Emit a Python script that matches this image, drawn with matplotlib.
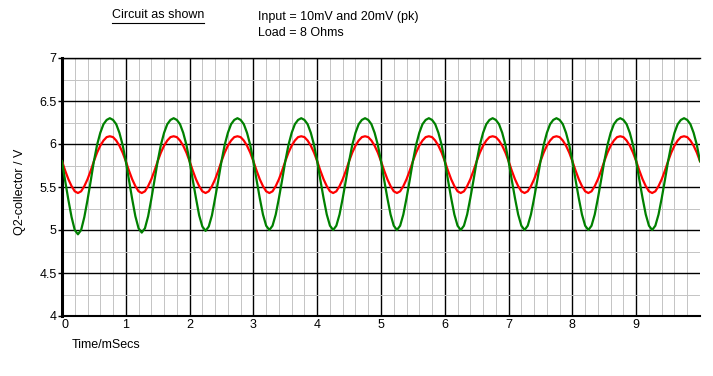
import numpy as np
import matplotlib
matplotlib.use("Agg")
import matplotlib.pyplot as plt
from matplotlib.ticker import MultipleLocator, FixedLocator
from matplotlib.lines import Line2D

plt.rcParams['font.family'] = ['Liberation Sans', 'DejaVu Sans']

# Time axis (ms), samples every 0.05 ms
time_ms = np.linspace(0, 10, 201)

# Q2 collector voltage, 10 mV input (red)
red_v = (
    [5.80, 5.69, 5.59, 5.51, 5.45, 5.43, 5.45, 5.51, 5.59, 5.69, 5.80, 5.90, 5.98, 6.04, 6.08, 6.09, 6.08, 6.04, 5.98, 5.90]
    + [5.80, 5.69, 5.59, 5.51, 5.45, 5.43, 5.45, 5.51, 5.59, 5.69, 5.80, 5.90, 5.98, 6.04, 6.08, 6.09, 6.08, 6.04, 5.98, 5.90]
    + [5.80, 5.69, 5.59, 5.51, 5.45, 5.43, 5.45, 5.51, 5.59, 5.69, 5.80, 5.90, 5.98, 6.04, 6.08, 6.09, 6.08, 6.04, 5.98, 5.90]
    + [5.80, 5.69, 5.59, 5.51, 5.45, 5.43, 5.45, 5.51, 5.59, 5.69, 5.80, 5.90, 5.98, 6.04, 6.08, 6.09, 6.08, 6.04, 5.98, 5.90]
    + [5.80, 5.69, 5.59, 5.51, 5.45, 5.43, 5.45, 5.51, 5.59, 5.69, 5.80, 5.90, 5.98, 6.04, 6.08, 6.09, 6.08, 6.04, 5.98, 5.90]
    + [5.80, 5.69, 5.59, 5.51, 5.45, 5.43, 5.45, 5.51, 5.59, 5.69, 5.80, 5.90, 5.98, 6.04, 6.08, 6.09, 6.08, 6.04, 5.98, 5.90]
    + [5.80, 5.69, 5.59, 5.51, 5.45, 5.43, 5.45, 5.51, 5.59, 5.69, 5.80, 5.90, 5.98, 6.04, 6.08, 6.09, 6.08, 6.04, 5.98, 5.90]
    + [5.80, 5.69, 5.59, 5.51, 5.45, 5.43, 5.45, 5.51, 5.59, 5.69, 5.80, 5.90, 5.98, 6.04, 6.08, 6.09, 6.08, 6.04, 5.98, 5.90]
    + [5.80, 5.69, 5.59, 5.51, 5.45, 5.43, 5.45, 5.51, 5.59, 5.69, 5.80, 5.90, 5.98, 6.04, 6.08, 6.09, 6.08, 6.04, 5.98, 5.90]
    + [5.80, 5.69, 5.59, 5.51, 5.45, 5.43, 5.45, 5.51, 5.59, 5.69, 5.80, 5.90, 5.98, 6.04, 6.08, 6.09, 6.08, 6.04, 5.98, 5.90]
    + [5.80]
)

# Q2 collector voltage, 20 mV input (green)
green_v = (
    [5.80, 5.57, 5.35, 5.15, 5.00, 4.95, 5.00, 5.15, 5.35, 5.57, 5.80, 5.99, 6.13, 6.23, 6.28, 6.30, 6.28, 6.23, 6.13, 5.99]
    + [5.80, 5.58, 5.36, 5.16, 5.02, 4.97, 5.02, 5.16, 5.36, 5.58, 5.80, 5.99, 6.13, 6.23, 6.28, 6.30, 6.28, 6.23, 6.13, 5.99]
    + [5.80, 5.58, 5.37, 5.17, 5.04, 4.99, 5.04, 5.17, 5.37, 5.58, 5.80, 5.99, 6.13, 6.23, 6.28, 6.30, 6.28, 6.23, 6.13, 5.99]
    + [5.80, 5.58, 5.37, 5.18, 5.05, 5.00, 5.05, 5.18, 5.37, 5.58, 5.80, 5.99, 6.13, 6.23, 6.28, 6.30, 6.28, 6.23, 6.13, 5.99]
    + [5.80, 5.58, 5.37, 5.18, 5.05, 5.00, 5.05, 5.18, 5.37, 5.58, 5.80, 5.99, 6.13, 6.23, 6.28, 6.30, 6.28, 6.23, 6.13, 5.99]
    + [5.80, 5.58, 5.37, 5.18, 5.05, 5.00, 5.05, 5.18, 5.37, 5.58, 5.80, 5.99, 6.13, 6.23, 6.28, 6.30, 6.28, 6.23, 6.13, 5.99]
    + [5.80, 5.58, 5.37, 5.18, 5.05, 5.00, 5.05, 5.18, 5.37, 5.58, 5.80, 5.99, 6.13, 6.23, 6.28, 6.30, 6.28, 6.23, 6.13, 5.99]
    + [5.80, 5.58, 5.37, 5.18, 5.05, 5.00, 5.05, 5.18, 5.37, 5.58, 5.80, 5.99, 6.13, 6.23, 6.28, 6.30, 6.28, 6.23, 6.13, 5.99]
    + [5.80, 5.58, 5.37, 5.18, 5.05, 5.00, 5.05, 5.18, 5.37, 5.58, 5.80, 5.99, 6.13, 6.23, 6.28, 6.30, 6.28, 6.23, 6.13, 5.99]
    + [5.80, 5.58, 5.37, 5.18, 5.05, 5.00, 5.05, 5.18, 5.37, 5.58, 5.80, 5.99, 6.13, 6.23, 6.28, 6.30, 6.28, 6.23, 6.13, 5.99]
    + [5.80]
)

x_ticks = [0, 1, 2, 3, 4, 5, 6, 7, 8, 9]
x_tick_labels = ["0", "1", "2", "3", "4", "5", "6", "7", "8", "9"]
y_ticks = [4, 4.5, 5, 5.5, 6, 6.5, 7]
y_tick_labels = ["4", "4.5", "5", "5.5", "6", "6.5", "7"]

W, H = 713, 376
fig = plt.figure(figsize=(W / 100, H / 100), dpi=100)
fig.patch.set_facecolor("white")
ax = fig.add_axes([62 / W, 60 / H, 638 / W, 258 / H])

ax.set_xlim(0, 10)
ax.set_ylim(4, 7)

# grid
ax.xaxis.set_major_locator(FixedLocator(x_ticks))
ax.yaxis.set_major_locator(FixedLocator(y_ticks))
ax.xaxis.set_minor_locator(MultipleLocator(0.2))
ax.yaxis.set_minor_locator(MultipleLocator(0.25))
ax.set_xticklabels(x_tick_labels)
ax.set_yticklabels(y_tick_labels)
ax.grid(which="minor", color="#c4c4c4", linewidth=0.7, linestyle="-")
ax.grid(which="major", color="black", linewidth=1.0, linestyle="-")
ax.set_axisbelow(True)

ax.plot(time_ms, red_v, color="#ff0000", linewidth=1.6, zorder=3)
ax.plot(time_ms, green_v, color="#008000", linewidth=1.6, zorder=4)

ax.spines["right"].set_visible(False)
ax.spines["top"].set_linewidth(1.0)
ax.spines["left"].set_linewidth(2.2)
ax.spines["bottom"].set_linewidth(1.5)

ax.tick_params(which="minor", length=0)
ax.tick_params(axis="y", which="major", length=3, width=1, pad=1, labelsize=9)
ax.tick_params(axis="x", which="major", length=0, pad=2, labelsize=9)
for lbl in ax.get_xticklabels():
    lbl.set_horizontalalignment("left" if lbl.get_text() == "0" else "center")

fig.text(20 / W, 1 - 192 / H, "Q2-collector / V", rotation=90, ha="center", va="center", fontsize=9)
fig.text(72 / W, 1 - 345 / H, "Time/mSecs", ha="left", va="center", fontsize=9)

t1 = fig.text(112 / W, 1 - 15 / H, "Circuit as shown", ha="left", va="center", fontsize=9)
fig.text(258 / W, 1 - 17 / H, "Input = 10mV and 20mV (pk)", ha="left", va="center", fontsize=9)
fig.text(258 / W, 1 - 33 / H, "Load = 8 Ohms", ha="left", va="center", fontsize=9)

fig.canvas.draw()
bb = t1.get_window_extent()
yline = (bb.y0 - 1.5) / H
fig.add_artist(Line2D([bb.x0 / W, bb.x1 / W], [yline, yline], color="black", linewidth=0.8,
                      transform=fig.transFigure))

fig.savefig("out.png", dpi=100, facecolor="white")
